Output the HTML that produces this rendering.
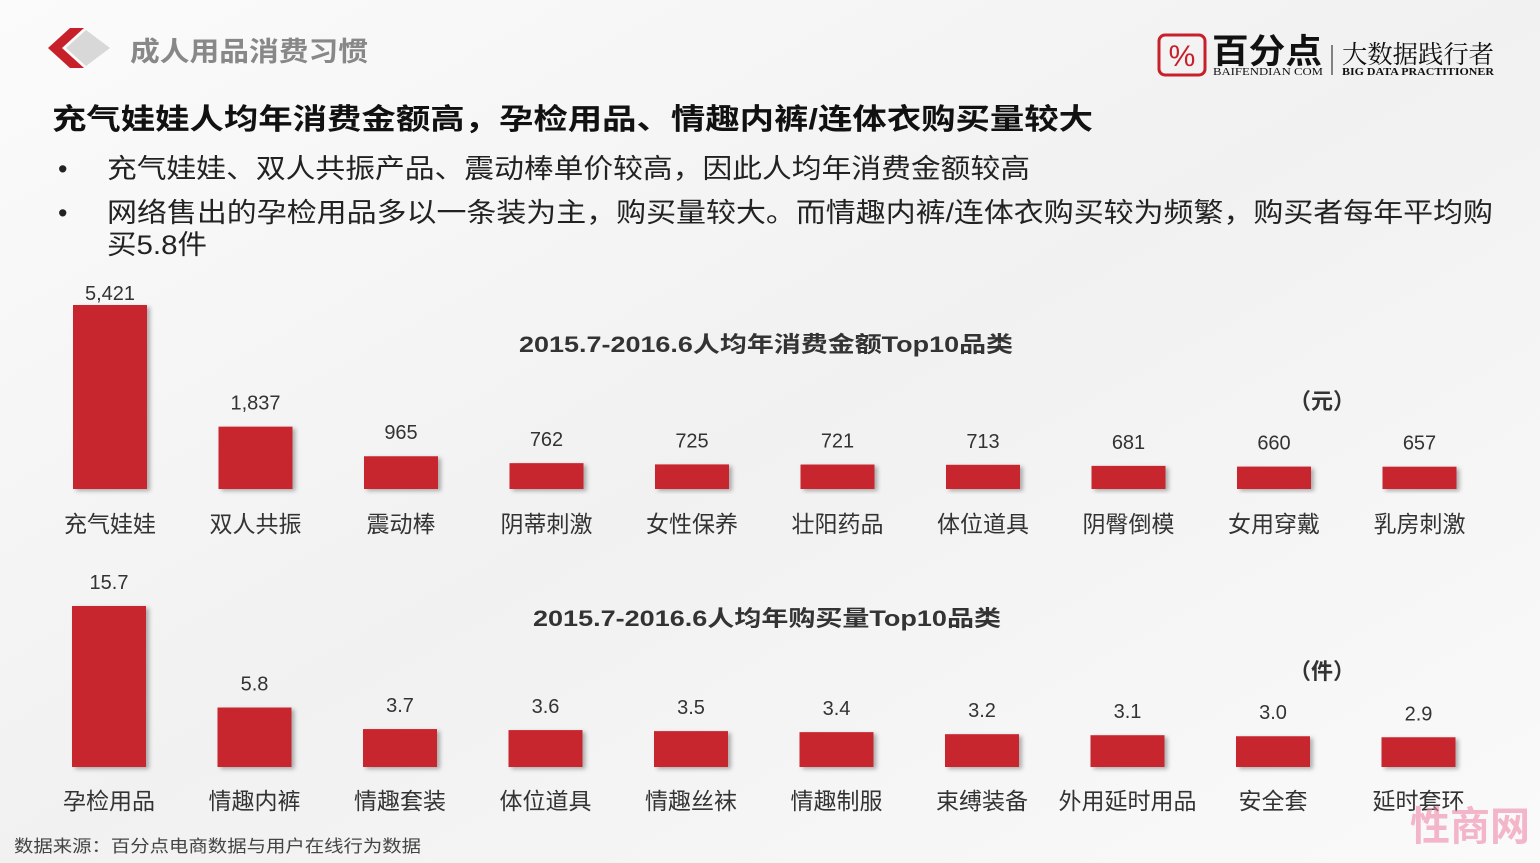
<!DOCTYPE html>
<html><head><meta charset="utf-8"><style>
body{margin:0;width:1540px;height:863px;overflow:hidden;background:#fff;font-family:"Liberation Sans","Noto Sans CJK SC",sans-serif;}
svg{position:absolute;left:0;top:0}
</style></head><body>
<svg id="s" width="1540" height="863">
<defs>
<linearGradient id="bg" x1="0" y1="0" x2="1" y2="1"><stop offset="0" stop-color="#fbfbfb"/><stop offset="0.5" stop-color="#f1f1f1"/><stop offset="1" stop-color="#fafafa"/></linearGradient>
<filter id="sh" x="-10%" y="-10%" width="130%" height="130%"><feDropShadow dx="3" dy="2" stdDeviation="2" flood-color="#000" flood-opacity="0.3"/></filter>
</defs>
<rect width="1540" height="863" fill="url(#bg)"/>
<g>
<polygon points="48,48 70,28 84,28 62,48 84,68 70,68" fill="#c8202a"/>
<polygon points="66,48 86,30 110,48 86,66" fill="#d8d8d8"/>
</g>
<text x="130" y="61" font-size="27" font-weight="bold" fill="#888" textLength="238" lengthAdjust="spacingAndGlyphs">成人用品消费习惯</text>
<g>
<rect x="1159" y="35" width="46" height="40" rx="6" fill="none" stroke="#c8202a" stroke-width="3"/>
<text x="1182" y="66" font-size="30" text-anchor="middle" fill="#c8202a">%</text>
<text x="1212" y="63" font-size="34" font-weight="bold" fill="#111" textLength="110" lengthAdjust="spacingAndGlyphs">百分点</text>
<text x="1213" y="75" font-size="10" fill="#111" font-family="Liberation Serif" textLength="110" lengthAdjust="spacingAndGlyphs">BAIFENDIAN COM</text>
<line x1="1332" y1="45" x2="1332" y2="75" stroke="#111"/>
<text x="1342" y="63" font-size="25" fill="#111" font-family="Noto Serif CJK SC,serif" textLength="152" lengthAdjust="spacingAndGlyphs">大数据践行者</text>
<text x="1342" y="75" font-size="10" font-weight="bold" fill="#111" font-family="Liberation Serif" textLength="152" lengthAdjust="spacingAndGlyphs">BIG DATA PRACTITIONER</text>
</g>
<text x="52" y="129" font-size="29" font-weight="bold" fill="#111" textLength="1041" lengthAdjust="spacingAndGlyphs">充气娃娃人均年消费金额高，孕检用品、情趣内裤/连体衣购买量较大</text>
<g font-size="27" fill="#222">
<text x="58" y="178">•</text><text x="107" y="178" textLength="923" lengthAdjust="spacingAndGlyphs">充气娃娃、双人共振产品、震动棒单价较高，因此人均年消费金额较高</text>
<text x="58" y="222">•</text><text x="107" y="222" textLength="1386" lengthAdjust="spacingAndGlyphs">网络售出的孕检用品多以一条装为主，购买量较大。而情趣内裤/连体衣购买较为频繁，购买者每年平均购</text>
<text x="107" y="254" textLength="100" lengthAdjust="spacingAndGlyphs">买5.8件</text>
</g>
<text x="519" y="352" font-size="22" font-weight="bold" fill="#333" textLength="494" lengthAdjust="spacingAndGlyphs">2015.7-2016.6人均年消费金额Top10品类</text>
<text x="1322" y="409" font-size="22" font-weight="bold" fill="#333" text-anchor="middle">（元）</text>
<text x="533" y="626" font-size="22" font-weight="bold" fill="#333" textLength="468" lengthAdjust="spacingAndGlyphs">2015.7-2016.6人均年购买量Top10品类</text>
<text x="1322" y="679" font-size="22" font-weight="bold" fill="#333" text-anchor="middle">（件）</text>
<g id="c1"></g>
<g id="c2"></g>
<text x="14" y="852" font-size="17" fill="#444" textLength="407" lengthAdjust="spacingAndGlyphs">数据来源：百分点电商数据与用户在线行为数据</text>
<text x="1470" y="840" font-size="40" font-weight="bold" fill="#f08aa8" opacity="0.6" text-anchor="middle">性商网</text>
</svg>
<script>
const cats1=["充气娃娃","双人共振","震动棒","阴蒂刺激","女性保养","壮阳药品","体位道具","阴臀倒模","女用穿戴","乳房刺激"];
const vals1=[5421,1837,965,762,725,721,713,681,660,657];
const labels1=["5,421","1,837","965","762","725","721","713","681","660","657"];
const cats2=["孕检用品","情趣内裤","情趣套装","体位道具","情趣丝袜","情趣制服","束缚装备","外用延时用品","安全套","延时套环"];
const vals2=[15.7,5.8,3.7,3.6,3.5,3.4,3.2,3.1,3.0,2.9];
const labels2=["15.7","5.8","3.7","3.6","3.5","3.4","3.2","3.1","3.0","2.9"];
const NS="http://www.w3.org/2000/svg";
function draw(id,cats,vals,labels,base,maxV,maxH,catY,x0,minLabelY){
  const g=document.getElementById(id);
  const step=145.5,w=74;
  const y=v=>base-v/maxV*maxH;
  const xc=i=>x0+i*step;
  cats.forEach((c,i)=>{
    const r=document.createElementNS(NS,"rect");
    
    
    r.setAttribute("x",xc(i)-w/2);r.setAttribute("y",y(vals[i]));
    r.setAttribute("width",w);r.setAttribute("height",base-y(vals[i]));
    r.setAttribute("fill","#c8282f");r.setAttribute("filter","url(#sh)");
    g.appendChild(r);
    const t=document.createElementNS(NS,"text");
    
    
    t.setAttribute("x",xc(i));t.setAttribute("y",Math.max(y(vals[i])-17,minLabelY));
    t.setAttribute("font-size","20");t.setAttribute("fill","#333");t.setAttribute("text-anchor","middle");
    t.textContent=labels[i];g.appendChild(t);
    const l=document.createElementNS(NS,"text");
    
    
    l.setAttribute("x",xc(i));l.setAttribute("y",catY);
    l.setAttribute("font-size","23");l.setAttribute("fill","#333");l.setAttribute("text-anchor","middle");
    l.textContent=c;g.appendChild(l);
  });
}
draw("c1",cats1,vals1,labels1,489,5421,184,532,110,300);
draw("c2",cats2,vals2,labels2,767,15.7,161,809,109,589);
</script>
</body></html>
